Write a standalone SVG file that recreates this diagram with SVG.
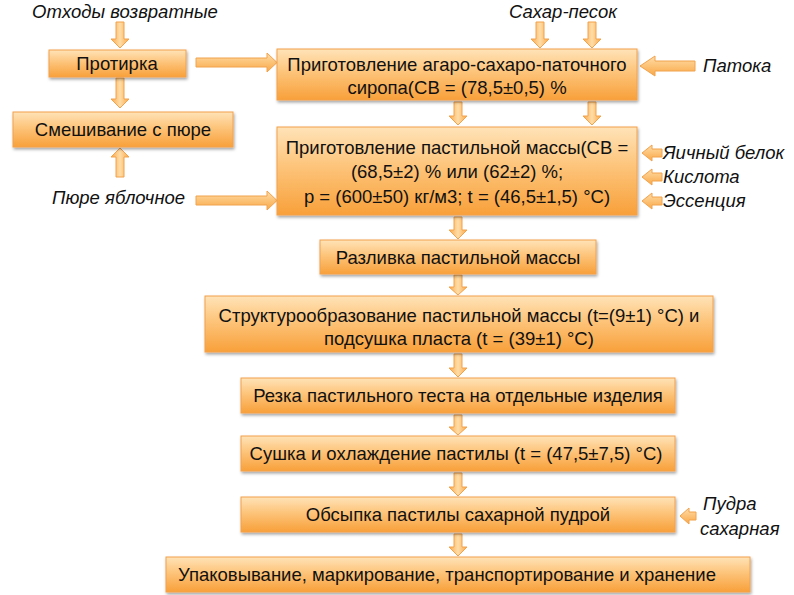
<svg xmlns="http://www.w3.org/2000/svg" width="794" height="595" viewBox="0 0 794 595">
<defs>
<linearGradient id="gBox" x1="0" y1="0" x2="0" y2="1">
<stop offset="0" stop-color="#FFE3B8"/>
<stop offset="0.45" stop-color="#FDC47A"/>
<stop offset="1" stop-color="#F8A03A"/>
</linearGradient>
<linearGradient id="gV" x1="0" y1="0" x2="1" y2="0">
<stop offset="0" stop-color="#F9A846"/>
<stop offset="0.5" stop-color="#FFDDA8"/>
<stop offset="1" stop-color="#F9A846"/>
</linearGradient>
<linearGradient id="gH" x1="0" y1="0" x2="0" y2="1">
<stop offset="0" stop-color="#FFDDA8"/>
<stop offset="1" stop-color="#F9A846"/>
</linearGradient>
<filter id="sh" x="-5%" y="-20%" width="110%" height="150%">
<feDropShadow dx="1" dy="2" stdDeviation="1.5" flood-color="#000" flood-opacity="0.35"/>
</filter>
</defs>
<style>
.box{fill:url(#gBox);stroke:#F4A04A;stroke-width:1;filter:url(#sh)}
.t{font-family:"Liberation Sans",Arial,sans-serif;font-size:18.5px;fill:#111;text-anchor:middle}
.l{font-family:"Liberation Sans",Arial,sans-serif;font-size:18.5px;font-style:italic;fill:#111}
.av{fill:url(#gV);stroke:#F2A24C;stroke-width:1}
.ah{fill:url(#gH);stroke:#F2A24C;stroke-width:1}
</style>

<g id="connectors">
<path class="av" d="M116,22 H124 V39 H129 L120,48 L111,39 H116 Z"/>
<path class="av" d="M116,78 H124 V99 H129 L120,108 L111,99 H116 Z"/>
<path class="av" d="M116,177 H124 V157 H129 L120,148 L111,157 H116 Z"/>
<path class="av" d="M536,22 H544 V39 H549 L540,48 L531,39 H536 Z"/>
<path class="av" d="M588,22 H596 V39 H601 L592,48 L583,39 H588 Z"/>
<path class="av" d="M454,102 H462 V116 H467 L458,125 L449,116 H454 Z"/>
<path class="av" d="M588,102 H596 V116 H601 L592,125 L583,116 H588 Z"/>
<path class="av" d="M454,217 H462 V230 H467 L458,239 L449,230 H454 Z"/>
<path class="av" d="M454,275 H462 V287 H467 L458,295 L449,287 H454 Z"/>
<path class="av" d="M454,354 H462 V368 H467 L458,377 L449,368 H454 Z"/>
<path class="av" d="M454,415 H462 V427 H467 L458,435 L449,427 H454 Z"/>
<path class="av" d="M454,473 H462 V487 H467 L458,496 L449,487 H454 Z"/>
<path class="av" d="M454,534 H462 V547 H467 L458,556 L449,547 H454 Z"/>
<path class="ah" d="M196,58 H267 V53 L277,62.5 L267,72 V67 H196 Z"/>
<path class="ah" d="M196,196 H267 V191 L277,200.5 L267,210 V205 H196 Z"/>
<path class="ah" d="M695,61 H655 V56 L640,66 L655,76 V71 H695 Z"/>
<path class="ah" d="M662,149 H652 V145 L642,153 L652,161 V157 H662 Z"/>
<path class="ah" d="M662,173 H652 V169 L642,177 L652,185 V181 H662 Z"/>
<path class="ah" d="M662,197 H652 V193 L642,201 L652,209 V205 H662 Z"/>
<path class="ah" d="M696,512 H689 V508 L680,516 L689,524 V520 H696 Z"/>
</g>

<g id="lbl-otkhody"><text class="l" x="125" y="18" text-anchor="middle">Отходы возвратные</text></g>
<g id="lbl-sakhar"><text class="l" x="563" y="18" text-anchor="middle">Сахар-песок</text></g>
<g id="lbl-patoka"><text class="l" x="703" y="72">Патока</text></g>
<g id="lbl-pyure"><text class="l" x="52" y="204">Пюре яблочное</text></g>
<g id="lbl-belok"><text class="l" x="663" y="159">Яичный белок</text></g>
<g id="lbl-kislota"><text class="l" x="663" y="183">Кислота</text></g>
<g id="lbl-essenciya"><text class="l" x="663" y="207">Эссенция</text></g>
<g id="lbl-pudra"><text class="l" x="703" y="510">Пудра</text><text class="l" x="700" y="535">сахарная</text></g>

<g id="n-protirka"><rect class="box" x="49" y="50" width="137" height="27"/><text class="t" x="117" y="70">Протирка</text></g>
<g id="n-smesh"><rect class="box" x="13" y="112" width="220" height="35"/><text class="t" x="123" y="136">Смешивание с пюре</text></g>
<g id="n-sirop"><rect class="box" x="277" y="49" width="360" height="51"/><text class="t" x="457" y="71">Приготовление агаро-сахаро-паточного</text><text class="t" x="457" y="94">сиропа(СВ = (78,5±0,5) %</text></g>
<g id="n-massa"><rect class="box" x="277" y="127" width="360" height="88"/><text class="t" x="457" y="154">Приготовление пастильной массы(СВ =</text><text class="t" x="457" y="178">(68,5±2) % или (62±2) %;</text><text class="t" x="457" y="203">р = (600±50) кг/м3; t = (46,5±1,5) °С)</text></g>
<g id="n-razlivka"><rect class="box" x="320" y="240" width="276" height="34"/><text class="t" x="458" y="264">Разливка пастильной массы</text></g>
<g id="n-struktura"><rect class="box" x="205" y="296" width="508" height="56"/><text class="t" x="459" y="322">Структурообразование пастильной массы (t=(9±1) °C) и</text><text class="t" x="459" y="345">подсушка пласта (t = (39±1) °C)</text></g>
<g id="n-rezka"><rect class="box" x="241" y="378" width="434" height="35"/><text class="t" x="458" y="402">Резка пастильного теста на отдельные изделия</text></g>
<g id="n-sushka"><rect class="box" x="241" y="436" width="434" height="35"/><text class="t" x="456" y="460">Сушка и охлаждение пастилы (t = (47,5±7,5) °C)</text></g>
<g id="n-obsypka"><rect class="box" x="241" y="497" width="434" height="35"/><text class="t" x="458" y="521">Обсыпка пастилы сахарной пудрой</text></g>
<g id="n-upakovka"><rect class="box" x="166" y="557" width="584" height="35"/><text class="t" x="447" y="581">Упаковывание, маркирование, транспортирование и хранение</text></g>
</svg>
